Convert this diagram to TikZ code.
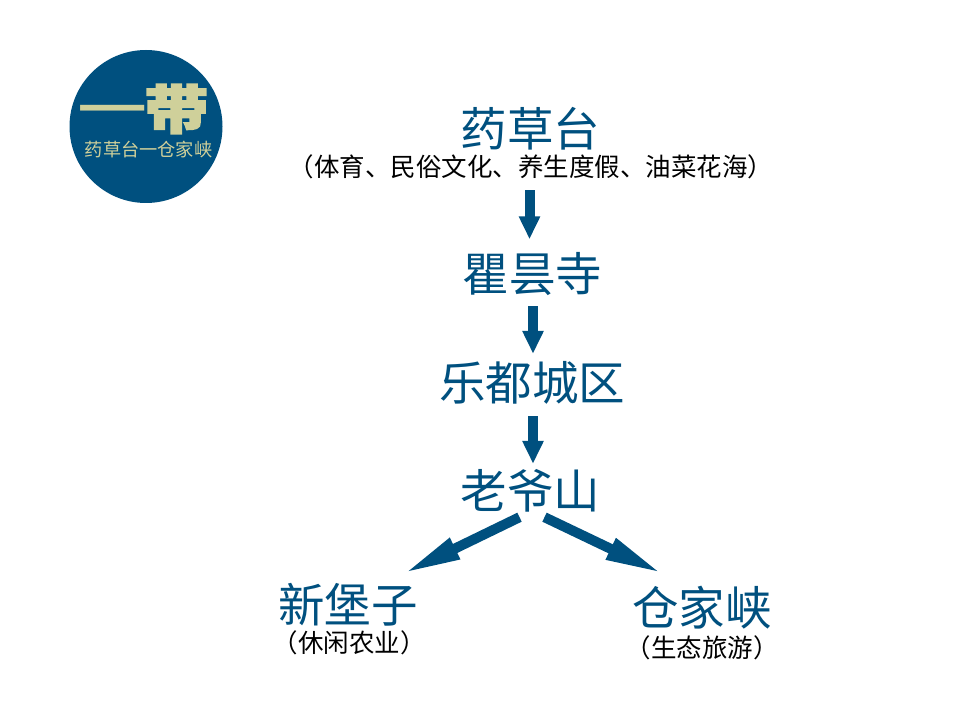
\documentclass[tikz,border=0pt]{standalone}
\usepackage{fontspec}
\setmainfont{Noto Sans CJK SC}
\newfontfamily\logofont[BoldFeatures={FakeBold=3}]{Noto Sans CJK SC}
\usetikzlibrary{arrows.meta}
\definecolor{lakeblue}{HTML}{00507F}
\definecolor{logosand}{HTML}{CFD09A}
\begin{document}
\begin{tikzpicture}[x=1pt,y=-1pt]
        \useasboundingbox (0,0) rectangle (960,708);

        % logo
        \node[circle,fill=lakeblue,minimum size=153pt,inner sep=0pt] (logo) at (146,126.5) {};
        \begin{scope}[every node/.style={text=logosand,inner sep=0pt}]
          \node[font=\fontsize{70}{70}\selectfont] (logobar) at (112.5,120) {一};
          \node[font=\fontsize{64}{64}\logofont\bfseries] (logobig) at (176.5,109) {\scalebox{1}[.82]{带}};
          \node[font=\fontsize{18.2}{18}\selectfont] (logotext) at (148.5,150) {药草台一仓家峡};
        \end{scope}

        % places
        \begin{scope}[every node/.style={text=lakeblue,inner sep=0pt,text height=40pt,text depth=3pt,font=\fontsize{46.5}{46}\selectfont}]
          \node (yaocao)  at (530.5,128) {药草台};
          \node (qutan)   at (532.5,273) {瞿昙寺};
          \node (ledu)    at (532,382)   {乐都城区};
          \node (laoye)   at (530.5,490) {老爷山};
          \node (xinbao)  at (348,604)   {新堡子};
          \node (cangjia) at (702,607)   {仓家峡};
        \end{scope}

        % captions
        \begin{scope}[every node/.style={text=black,inner sep=0pt,text height=22pt,text depth=3pt,font=\fontsize{25.5}{25}\selectfont}]
          \node (yaocaonote)  at (531,167) {（体育、民俗文化、养生度假、油菜花海）};
          \node (xinbaonote)  at (349,643) {（休闲农业）};
          \node (cangjianote) at (702,648) {（生态旅游）};
        \end{scope}

        % arrows, y runs downwards but yshift does not
        \begin{scope}[every edge/.style={draw=lakeblue,line width=10pt,-{Triangle[width=20pt,length=23pt]}}]
          \path ([xshift=-1.5pt,yshift=-10.5pt]yaocaonote.south) edge ([xshift=-3pt,yshift=12pt]qutan.north);
          \path ([xshift=.5pt,yshift=-11.5pt]qutan.south) edge ([xshift=1pt,yshift=6.5pt]ledu.north);
          \path ([xshift=1pt,yshift=-12.5pt]ledu.south) edge ([xshift=2.5pt,yshift=4.5pt]laoye.north);
        \end{scope}
        \begin{scope}[every edge/.style={draw=lakeblue,line width=10pt,-{Triangle[width=21pt,length=58pt]}}]
          \path ([xshift=-11pt,yshift=-5.5pt]laoye.south) edge ([xshift=-15pt,yshift=8.5pt]xinbao.north east);
          \path ([xshift=14pt,yshift=-5.5pt]laoye.south) edge ([xshift=-39pt,yshift=11.5pt]cangjia.north);
        \end{scope}

      \end{tikzpicture}
\end{document}
